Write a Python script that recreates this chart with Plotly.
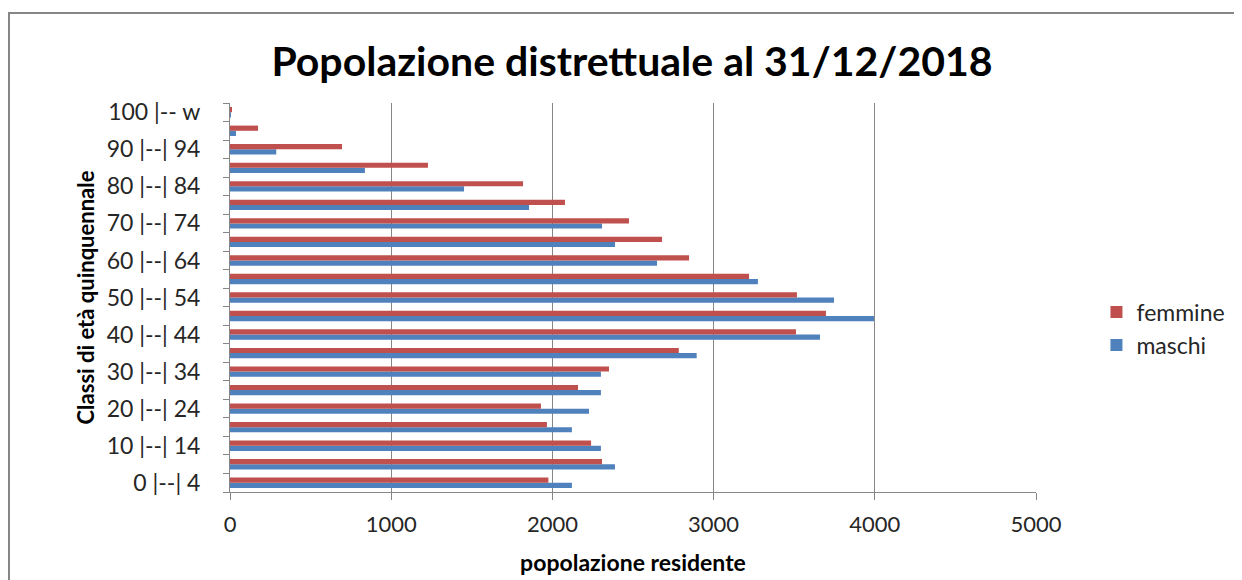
import plotly.graph_objects as go

categories = ["0 |--| 4", "5 |--| 9", "10 |--| 14", "15 |--| 19", "20 |--| 24",
              "25 |--| 29", "30 |--| 34", "35 |--| 39", "40 |--| 44", "45 |--| 49",
              "50 |--| 54", "55 |--| 59", "60 |--| 64", "65 |--| 69", "70 |--| 74",
              "75 |--| 79", "80 |--| 84", "85 |--| 89", "90 |--| 94", "95 |--| 99",
              "100 |-- w"]
femmine = [1975, 2308, 2240, 1966, 1929, 2159, 2351, 2784, 3511, 3697, 3517,
           3220, 2848, 2680, 2475, 2078, 1818, 1228, 695, 174, 12]
maschi = [2121, 2388, 2301, 2121, 2227, 2301, 2301, 2895, 3660, 3995, 3747,
          3275, 2649, 2388, 2308, 1855, 1452, 837, 287, 37, 2]
x_ticks = [0, 1000, 2000, 3000, 4000, 5000]

idx = list(range(len(categories)))
fig = go.Figure()
fig.add_trace(go.Bar(y=idx, x=maschi, orientation="h", name="maschi",
                     marker=dict(color="#4F81BD", line=dict(width=0))))
fig.add_trace(go.Bar(y=idx, x=femmine, orientation="h", name="femmine",
                     marker=dict(color="#C0504D", line=dict(width=0))))

font_main = "Lato, 'Open Sans', sans-serif"
fig.update_layout(
    width=1242, height=580,
    margin=dict(l=222, r=214, t=95, b=96),
    paper_bgcolor="white", plot_bgcolor="white",
    barmode="group", bargap=0.44, bargroupgap=0,
    title=dict(text="<b>Popolazione distrettuale al 31/12/2018</b>",
               x=0.5024, xanchor="center", y=0.907, yanchor="middle",
               font=dict(family=font_main, size=41, color="black")),
    font=dict(family=font_main, size=22, color="#262626"),
    legend=dict(x=1.075, y=0.42, xanchor="left", yanchor="middle",
                traceorder="reversed", font=dict(size=23, color="#262626"),
                itemwidth=30, tracegroupgap=0),
    showlegend=True,
)
fig.update_xaxes(
    range=[0, 5000], tickvals=x_ticks, ticktext=[str(v) for v in x_ticks],
    showgrid=True, gridcolor="#868686", gridwidth=1,
    showline=True, linecolor="#868686", linewidth=1,
    ticks="outside", ticklen=7, tickcolor="#868686", ticklabelstandoff=6,
    tickfont=dict(size=22, color="#262626"), zeroline=False,
    title=dict(text="<b>popolazione residente</b>", font=dict(size=23, color="black"), standoff=18),
)
fig.update_yaxes(
    range=[-0.5, 20.5], tickvals=idx[::2], ticktext=categories[::2],
    showgrid=False, zeroline=False,
    showline=True, linecolor="#868686", linewidth=1,
    ticks="", ticklabelstandoff=24,
    minor=dict(ticks="outside", ticklen=6, tickcolor="#868686", tick0=-0.5, dtick=1, showgrid=False),
    tickfont=dict(size=23, color="#262626"),
    title=dict(text="<b>Classi di età quinquennale</b>", font=dict(size=22, color="black"), standoff=5),
)
fig.add_shape(type="rect", xref="paper", yref="paper",
              x0=(9 - 230) / 806, x1=(1240 - 230) / 806,
              y0=(492 - 585) / 389, y1=(492 - 13) / 389,
              line=dict(color="#868686", width=2), fillcolor="rgba(0,0,0,0)", layer="below")
fig.write_html("out.html")
